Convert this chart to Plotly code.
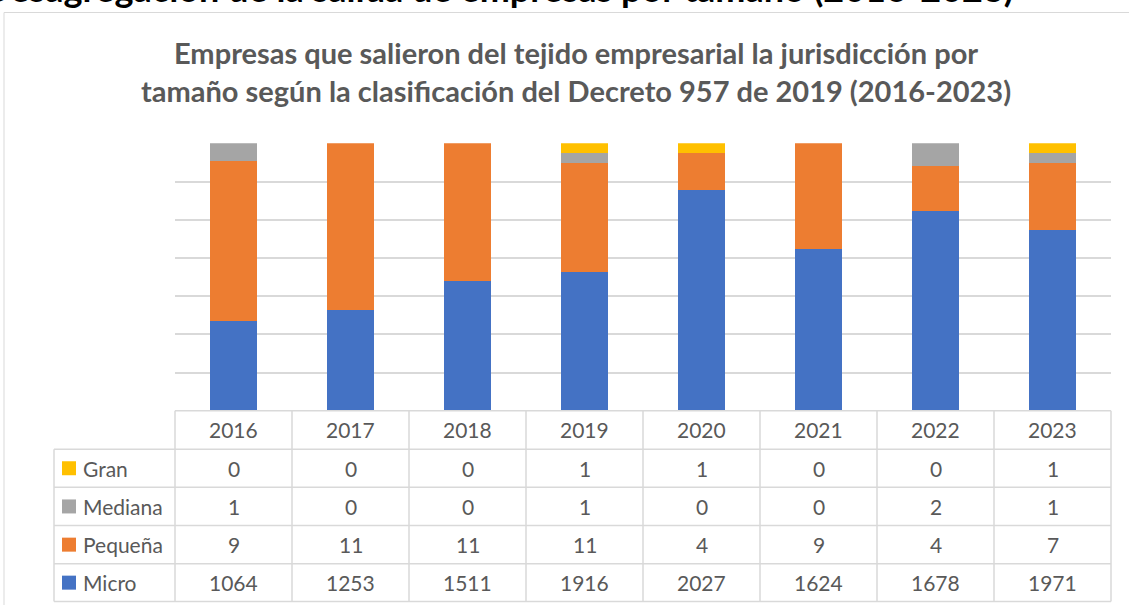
import plotly.graph_objects as go

# ---- data ----
years = ["2016", "2017", "2018", "2019", "2020", "2021", "2022", "2023"]
micro = [1064, 1253, 1511, 1916, 2027, 1624, 1678, 1971]
pequena = [9, 11, 11, 11, 4, 9, 4, 7]
mediana = [1, 0, 0, 1, 0, 0, 2, 1]
gran = [0, 0, 0, 1, 1, 0, 0, 1]
series_names = ["Micro", "Pequeña", "Mediana", "Gran"]
title_text = "Empresas que salieron del tejido empresarial la jurisdicción por<br>tamaño según la clasificación del Decreto 957 de 2019 (2016-2023)"
doc_heading = "Desagregación de la salida de empresas por tamaño (2016-2023)"

W, H = 1129, 605
colors = {"Micro": "#4472C4", "Pequeña": "#ED7D31", "Mediana": "#A5A5A5", "Gran": "#FFC000"}
series = {"Micro": micro, "Pequeña": pequena, "Mediana": mediana, "Gran": gran}

def px_x(x):
    return x / W

def px_y(y):
    return 1 - y / H

plot_l, plot_r = 175, 1111
plot_t, plot_b = 143.3, 410.7
row_edges = [410.7, 449.2, 487.3, 525.6, 563.7, 601.6]
table_l = 54
TXT = "#595959"
GRID = "#D9D9D9"
FONT = "Lato"

fig = go.Figure()
for name in series_names:
    fig.add_trace(go.Bar(
        x=years, y=series[name], name=name,
        marker=dict(color=colors[name], line=dict(width=0)),
        showlegend=False, hoverinfo="x+y+name",
    ))

shapes = []
annotations = []

# outer chart frame
shapes.append(dict(type="rect", xref="paper", yref="paper",
                   x0=px_x(4), x1=px_x(1140), y0=px_y(620), y1=px_y(12.5),
                   line=dict(color=GRID, width=1), fillcolor="rgba(0,0,0,0)", layer="below"))

# table grid
ncol = len(years)
colw = (plot_r - plot_l) / ncol
shapes.append(dict(type="line", xref="paper", yref="paper",
                   x0=px_x(plot_l), x1=px_x(plot_r), y0=px_y(row_edges[0]), y1=px_y(row_edges[0]),
                   line=dict(color=GRID, width=1.5)))
for ry in row_edges[1:]:
    shapes.append(dict(type="line", xref="paper", yref="paper",
                       x0=px_x(table_l), x1=px_x(plot_r), y0=px_y(ry), y1=px_y(ry),
                       line=dict(color=GRID, width=1.5)))
shapes.append(dict(type="line", xref="paper", yref="paper",
                   x0=px_x(table_l), x1=px_x(table_l), y0=px_y(row_edges[1]), y1=px_y(row_edges[-1]),
                   line=dict(color=GRID, width=1.5)))
for i in range(ncol + 1):
    xx = plot_l + i * colw
    shapes.append(dict(type="line", xref="paper", yref="paper",
                       x0=px_x(xx), x1=px_x(xx), y0=px_y(row_edges[0]), y1=px_y(row_edges[-1]),
                       line=dict(color=GRID, width=1.5)))

# year header row
for i, yr in enumerate(years):
    cx = plot_l + (i + 0.5) * colw
    cy = (row_edges[0] + row_edges[1]) / 2
    annotations.append(dict(x=px_x(cx), y=px_y(cy), xref="paper", yref="paper", text=yr,
                            showarrow=False, xanchor="center", yanchor="middle",
                            font=dict(family=FONT, size=21, color=TXT)))

# data rows (top to bottom: Gran, Mediana, Pequeña, Micro)
row_order = ["Gran", "Mediana", "Pequeña", "Micro"]
for r, name in enumerate(row_order):
    y0, y1 = row_edges[r + 1], row_edges[r + 2]
    cy = (y0 + y1) / 2
    shapes.append(dict(type="rect", xref="paper", yref="paper",
                       x0=px_x(62), x1=px_x(76), y0=px_y(cy + 7), y1=px_y(cy - 7),
                       fillcolor=colors[name], line=dict(width=0)))
    annotations.append(dict(x=px_x(81), y=px_y(cy), xref="paper", yref="paper", text=name,
                            showarrow=False, xanchor="left", yanchor="middle",
                            font=dict(family=FONT, size=21, color=TXT)))
    for i, v in enumerate(series[name]):
        cx = plot_l + (i + 0.5) * colw
        annotations.append(dict(x=px_x(cx), y=px_y(cy), xref="paper", yref="paper", text=str(v),
                                showarrow=False, xanchor="center", yanchor="middle",
                                font=dict(family=FONT, size=21, color=TXT)))

# chart title
annotations.append(dict(x=px_x(576), y=px_y(71), xref="paper", yref="paper", text=title_text,
                        showarrow=False, xanchor="center", yanchor="middle", align="center",
                        font=dict(family=FONT, size=29, color=TXT, weight="bold")))

# document heading, cut off at the top of the window
annotations.append(dict(x=px_x(1016), y=px_y(-12), xref="paper", yref="paper", text=doc_heading,
                        showarrow=False, xanchor="right", yanchor="middle",
                        font=dict(family=FONT, size=36, color="#000000", weight="bold")))

fig.update_layout(
    width=W, height=H,
    margin=dict(l=0, r=0, t=0, b=0),
    paper_bgcolor="white", plot_bgcolor="white",
    barmode="stack", barnorm="percent", bargap=0.59,
    xaxis=dict(domain=[px_x(plot_l), px_x(plot_r)], showticklabels=False, showgrid=False,
               zeroline=False, showline=False, ticks=""),
    yaxis=dict(domain=[px_y(plot_b), px_y(plot_t)], range=[98.6, 100], tick0=98.6, dtick=0.2,
               showticklabels=False, showgrid=True, gridcolor=GRID, gridwidth=1.5,
               zeroline=False, showline=False, ticks=""),
    shapes=shapes, annotations=annotations,
    font=dict(family=FONT, color=TXT),
)

fig.write_html("out.html", config={"displayModeBar": False},
               post_script="document.body.style.margin='0';")
